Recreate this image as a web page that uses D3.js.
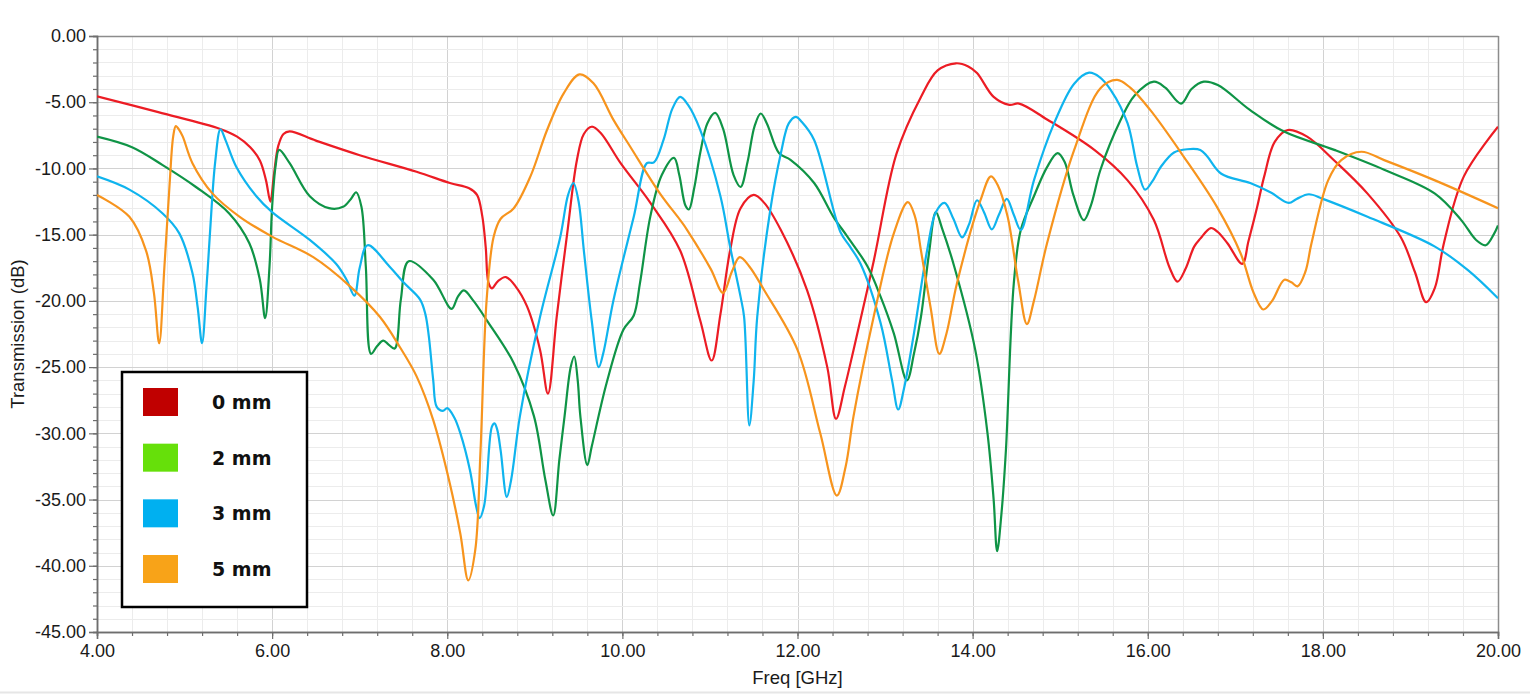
<!DOCTYPE html>
<html>
<head>
<meta charset="utf-8">
<script src="https://cdn.jsdelivr.net/npm/d3@7"></script>
<style>
  html, body { margin: 0; padding: 0; background: #fff; }
  svg { display: block; }
</style>
</head>
<body>
<svg id="chart" width="1530" height="694"></svg>
<script>
// ---------------- DATA ----------------
const seriesNames = ["0 mm", "2 mm", "3 mm", "5 mm"];
const lineColors = ["#ec1c24", "#0f9446", "#0fb4ee", "#f7941d"];
const legendColors = ["#c00000", "#66e00a", "#00b0f0", "#f8a318"];

const xTickLabels = ["4.00", "6.00", "8.00", "10.00", "12.00", "14.00", "16.00", "18.00", "20.00"];
const yTickLabels = ["0.00", "-5.00", "-10.00", "-15.00", "-20.00", "-25.00", "-30.00", "-35.00", "-40.00", "-45.00"];

// [Freq GHz, Transmission dB]
const trans0mm = [[4.0,-4.55],[4.7,-5.75],[5.4,-7.0],[5.6,-7.6],[5.75,-8.4],[5.86,-9.4],[5.93,-10.9],[5.98,-12.5],[6.02,-10.5],[6.07,-8.3],[6.13,-7.4],[6.2,-7.2],[6.5,-7.9],[7.0,-9.0],[7.65,-10.25],[8.03,-11.1],[8.25,-11.5],[8.34,-12.0],[8.40,-13.6],[8.44,-16.0],[8.47,-18.6],[8.51,-19.05],[8.58,-18.5],[8.67,-18.2],[8.78,-18.9],[8.91,-20.4],[9.06,-23.7],[9.15,-27.0],[9.25,-21.2],[9.37,-14.9],[9.48,-9.4],[9.56,-7.4],[9.65,-6.85],[9.75,-7.3],[9.98,-9.6],[10.32,-12.6],[10.66,-16.2],[10.89,-21.5],[11.02,-24.5],[11.12,-21.0],[11.23,-16.2],[11.35,-13.0],[11.5,-12.0],[11.62,-12.6],[11.81,-14.65],[12.11,-19.2],[12.34,-25.0],[12.44,-28.9],[12.54,-26.5],[12.64,-23.7],[12.87,-17.0],[13.13,-8.9],[13.41,-4.6],[13.6,-2.6],[13.81,-2.06],[13.95,-2.3],[14.05,-2.8],[14.24,-4.6],[14.42,-5.2],[14.53,-5.1],[14.85,-6.3],[15.39,-8.6],[15.77,-10.9],[16.07,-13.9],[16.25,-17.5],[16.34,-18.55],[16.43,-17.6],[16.53,-15.9],[16.6,-15.3],[16.72,-14.5],[16.8,-14.8],[16.91,-15.65],[17.08,-17.2],[17.15,-15.5],[17.25,-12.9],[17.33,-10.6],[17.45,-8.0],[17.6,-7.1],[17.82,-7.6],[18.13,-9.4],[18.51,-11.9],[18.89,-15.2],[19.05,-17.8],[19.18,-20.1],[19.28,-19.0],[19.38,-15.7],[19.61,-10.6],[20.0,-6.85]];

const trans2mm = [[4.0,-7.6],[4.4,-8.4],[4.75,-9.75],[5.13,-11.4],[5.51,-13.4],[5.74,-15.65],[5.86,-18.4],[5.92,-21.3],[5.97,-17.4],[6.0,-12.9],[6.04,-9.8],[6.08,-8.6],[6.2,-9.6],[6.43,-12.1],[6.65,-13.0],[6.81,-12.9],[6.9,-12.3],[6.96,-11.8],[7.02,-12.9],[7.07,-17.4],[7.13,-24.0],[7.2,-23.4],[7.27,-23.0],[7.33,-23.3],[7.4,-23.6],[7.47,-19.9],[7.56,-17.0],[7.84,-18.4],[8.05,-20.6],[8.12,-19.7],[8.19,-19.2],[8.3,-20.0],[8.45,-21.45],[8.76,-24.7],[8.99,-28.7],[9.12,-33.5],[9.21,-36.2],[9.28,-32.0],[9.34,-28.7],[9.41,-25.0],[9.45,-24.2],[9.49,-26.0],[9.52,-28.7],[9.6,-32.4],[9.65,-31.0],[9.82,-26.2],[10.01,-22.2],[10.13,-21.1],[10.2,-18.7],[10.32,-13.6],[10.45,-10.5],[10.59,-9.2],[10.65,-10.5],[10.72,-12.8],[10.76,-13.1],[10.82,-11.5],[10.89,-8.8],[10.97,-6.6],[11.06,-5.8],[11.15,-7.0],[11.27,-10.5],[11.35,-11.4],[11.43,-9.5],[11.51,-6.8],[11.58,-5.85],[11.65,-6.6],[11.79,-8.85],[11.92,-9.35],[12.19,-11.1],[12.41,-13.65],[12.57,-15.15],[12.8,-17.4],[12.95,-19.7],[13.1,-22.45],[13.25,-26.0],[13.33,-24.0],[13.41,-21.2],[13.5,-16.5],[13.58,-13.3],[13.65,-14.5],[13.79,-17.4],[14.03,-23.7],[14.17,-30.0],[14.24,-35.0],[14.28,-38.9],[14.33,-36.0],[14.38,-31.3],[14.47,-18.7],[14.55,-14.65],[14.7,-12.1],[14.85,-9.9],[14.97,-8.85],[15.05,-9.5],[15.15,-12.0],[15.27,-13.9],[15.35,-12.8],[15.46,-10.1],[15.69,-6.35],[15.85,-4.5],[16.07,-3.45],[16.2,-3.9],[16.38,-5.1],[16.5,-4.0],[16.64,-3.45],[16.8,-3.7],[17.17,-5.6],[17.55,-7.2],[18.13,-8.6],[18.7,-10.1],[19.28,-11.9],[19.58,-13.9],[19.75,-15.4],[19.86,-15.8],[19.95,-15.0],[20.0,-14.3]];

const trans3mm = [[4.0,-10.6],[4.37,-11.6],[4.75,-13.4],[4.94,-14.9],[5.09,-17.9],[5.15,-20.5],[5.2,-23.2],[5.25,-19.0],[5.29,-14.9],[5.35,-9.5],[5.41,-7.05],[5.47,-7.9],[5.59,-9.87],[5.82,-12.1],[6.0,-13.3],[6.43,-15.4],[6.73,-17.2],[6.85,-18.4],[6.94,-19.6],[7.0,-17.5],[7.09,-15.8],[7.34,-17.4],[7.5,-18.6],[7.69,-19.9],[7.75,-21.0],[7.79,-22.7],[7.84,-26.0],[7.88,-28.0],[7.95,-28.3],[8.0,-28.1],[8.08,-28.8],[8.15,-30.0],[8.26,-32.8],[8.33,-35.5],[8.37,-36.4],[8.42,-35.5],[8.45,-33.8],[8.51,-29.5],[8.54,-29.25],[8.57,-29.7],[8.61,-31.3],[8.68,-34.8],[8.73,-33.5],[8.83,-28.7],[9.06,-21.2],[9.29,-15.2],[9.38,-12.0],[9.44,-11.1],[9.5,-12.5],[9.56,-16.2],[9.65,-21.5],[9.73,-25.0],[9.78,-24.0],[9.9,-19.9],[10.13,-13.65],[10.28,-9.6],[10.36,-9.55],[10.47,-7.85],[10.57,-5.5],[10.66,-4.6],[10.75,-5.2],[10.89,-7.1],[11.12,-12.1],[11.23,-15.9],[11.35,-19.7],[11.39,-21.2],[11.45,-29.4],[11.5,-26.0],[11.54,-21.2],[11.69,-13.1],[11.81,-8.86],[11.9,-6.6],[11.98,-6.1],[12.05,-6.5],[12.19,-7.85],[12.49,-14.8],[12.6,-15.9],[12.72,-17.2],[12.95,-21.7],[13.08,-26.0],[13.15,-28.2],[13.22,-26.5],[13.33,-22.45],[13.48,-16.2],[13.58,-13.3],[13.68,-12.6],[13.78,-13.8],[13.88,-15.2],[13.96,-14.2],[14.05,-12.4],[14.13,-13.3],[14.22,-14.6],[14.3,-13.5],[14.39,-12.3],[14.47,-13.5],[14.55,-14.65],[14.7,-10.9],[14.93,-6.6],[15.16,-3.6],[15.33,-2.77],[15.45,-3.1],[15.58,-4.1],[15.77,-6.6],[15.88,-9.87],[15.97,-11.6],[16.05,-11.0],[16.15,-9.87],[16.3,-8.8],[16.45,-8.55],[16.6,-8.6],[16.68,-9.1],[16.84,-10.4],[17.17,-11.1],[17.4,-11.8],[17.61,-12.6],[17.7,-12.3],[17.84,-11.95],[18.0,-12.3],[18.51,-13.65],[19.28,-15.9],[19.66,-17.7],[20.0,-19.8]];

const trans5mm = [[4.0,-12.0],[4.37,-13.65],[4.56,-16.2],[4.65,-19.4],[4.71,-23.2],[4.77,-17.4],[4.83,-11.1],[4.87,-7.6],[4.9,-6.8],[4.94,-7.1],[4.98,-7.6],[5.09,-9.6],[5.32,-11.9],[5.63,-13.65],[6.0,-15.15],[6.47,-16.7],[6.89,-18.9],[7.23,-21.2],[7.46,-23.5],[7.65,-25.7],[7.84,-29.0],[8.03,-33.8],[8.15,-37.6],[8.24,-41.1],[8.32,-38.8],[8.38,-31.3],[8.45,-19.9],[8.53,-15.15],[8.61,-13.8],[8.76,-13.0],[8.95,-10.6],[9.14,-7.1],[9.33,-4.33],[9.51,-2.9],[9.67,-3.57],[9.9,-6.35],[10.09,-8.36],[10.43,-11.9],[10.66,-13.9],[10.74,-14.65],[11.01,-17.6],[11.15,-19.4],[11.25,-17.8],[11.34,-16.7],[11.45,-17.4],[11.62,-19.2],[12.0,-23.7],[12.26,-30.0],[12.45,-34.7],[12.55,-32.5],[12.64,-28.7],[12.87,-21.2],[13.1,-14.9],[13.26,-12.55],[13.34,-13.6],[13.41,-16.2],[13.52,-20.5],[13.62,-24.0],[13.7,-22.5],[13.82,-18.7],[14.09,-12.4],[14.21,-10.6],[14.29,-11.3],[14.4,-13.65],[14.52,-18.5],[14.62,-21.75],[14.7,-20.0],[14.85,-15.65],[15.16,-8.6],[15.46,-3.95],[15.65,-3.32],[15.8,-3.9],[16.03,-5.6],[16.41,-9.1],[16.79,-12.9],[17.06,-16.4],[17.21,-19.4],[17.32,-20.65],[17.42,-20.0],[17.56,-18.4],[17.64,-18.6],[17.71,-18.9],[17.8,-17.8],[17.87,-15.65],[18.06,-10.9],[18.21,-9.37],[18.44,-8.74],[18.7,-9.37],[19.28,-10.9],[20.0,-13.0]];

const allSeries = [trans0mm, trans2mm, trans3mm, trans5mm];

// ---------------- LAYOUT ----------------
const svg = d3.select("#chart");
const L = 97, T = 36, R = 1498, B = 632;
const font = "'Liberation Sans', Arial, sans-serif";

const x = d3.scaleLinear().domain([4, 20]).range([L, R]);
const y = d3.scaleLinear().domain([-45, 0]).range([B, T]);

// bottom separator line of window
svg.append("line").attr("x1", 0).attr("x2", 1530).attr("y1", 692.5).attr("y2", 692.5)
  .attr("stroke", "#e6e6e6").attr("stroke-width", 2);

// Grid
const grid = svg.append("g");
const xMinor = d3.range(0, 41).map(i => 4 + i * 0.4);
const yMinor = d3.range(0, 46).map(i => -i);
grid.selectAll(".xm").data(xMinor).enter().append("line")
  .attr("x1", d => Math.round(x(d)) + 0.5).attr("x2", d => Math.round(x(d)) + 0.5)
  .attr("y1", T).attr("y2", B)
  .attr("stroke", (d, i) => i % 5 === 0 ? "#d2d2d2" : "#ececec").attr("stroke-width", 1);
grid.selectAll(".ym").data(yMinor).enter().append("line")
  .attr("x1", L).attr("x2", R)
  .attr("y1", d => Math.round(y(d)) + 0.5).attr("y2", d => Math.round(y(d)) + 0.5)
  .attr("stroke", (d, i) => i % 5 === 0 ? "#d2d2d2" : "#ececec").attr("stroke-width", 1);

// Frame top/right
svg.append("line").attr("x1", L).attr("x2", R + 0.5).attr("y1", T + 0.5).attr("y2", T + 0.5)
  .attr("stroke", "#8c8c8c").attr("stroke-width", 1.5);
svg.append("line").attr("x1", R + 0.5).attr("x2", R + 0.5).attr("y1", T).attr("y2", B)
  .attr("stroke", "#8c8c8c").attr("stroke-width", 1.5);

// Axes
const yAxisMajor = d3.axisLeft(y).tickValues(yTickLabels.map(Number))
  .tickFormat((d, i) => yTickLabels[i]).tickSize(8).tickPadding(3);
const yAxisMinor = d3.axisLeft(y).tickValues(yMinor).tickFormat("").tickSize(4);
const xAxisMajor = d3.axisBottom(x).tickValues(xTickLabels.map(Number))
  .tickFormat((d, i) => xTickLabels[i]).tickSize(7).tickPadding(5);
const xAxisMinor = d3.axisBottom(x).tickValues(xMinor).tickFormat("").tickSize(4);

function styleAxis(g) {
  g.select(".domain").attr("stroke", "#6e6e6e").attr("stroke-width", 1.5);
  g.selectAll(".tick line").attr("stroke", "#6e6e6e").attr("stroke-width", 1.2);
  g.selectAll("text").attr("fill", "#1a1a1a").style("font-family", font).style("font-size", "18px");
}
svg.append("g").attr("transform", `translate(${L},0)`).call(yAxisMinor).call(styleAxis);
svg.append("g").attr("transform", `translate(${L},0)`).call(yAxisMajor).call(styleAxis);
svg.append("g").attr("transform", `translate(0,${B})`).call(xAxisMinor).call(styleAxis);
svg.append("g").attr("transform", `translate(0,${B})`).call(xAxisMajor).call(styleAxis);

// Axis titles
svg.append("text").attr("x", (L + R) / 2).attr("y", 684).attr("text-anchor", "middle")
  .style("font-family", font).style("font-size", "18.5px").attr("fill", "#1a1a1a").text("Freq [GHz]");
svg.append("text").attr("transform", `translate(24,${(T + B) / 2}) rotate(-90)`).attr("text-anchor", "middle")
  .style("font-family", font).style("font-size", "18.5px").attr("fill", "#1a1a1a").text("Transmission (dB)");

// Lines
svg.append("clipPath").attr("id", "clip").append("rect")
  .attr("x", L).attr("y", T).attr("width", R - L).attr("height", B - T);
const line = d3.line().x(d => x(d[0])).y(d => y(d[1])).curve(d3.curveCatmullRom.alpha(0.5));
svg.append("g").attr("clip-path", "url(#clip)").selectAll("path").data(allSeries).enter().append("path")
  .attr("d", line).attr("fill", "none")
  .attr("stroke", (d, i) => lineColors[i]).attr("stroke-width", 2.2)
  .attr("stroke-linejoin", "round");

// Legend
const lg = svg.append("g");
lg.append("rect").attr("x", 122).attr("y", 372).attr("width", 185).attr("height", 235)
  .attr("fill", "#fff").attr("stroke", "#000").attr("stroke-width", 2.5);
const rowY = d3.scalePoint().domain(seriesNames).range([402, 569]);
seriesNames.forEach((name, i) => {
  lg.append("rect").attr("x", 143).attr("y", rowY(name) - 14).attr("width", 35).attr("height", 28)
    .attr("fill", legendColors[i]);
  lg.append("text").attr("x", 212).attr("y", rowY(name) + 7)
    .style("font-family", "'DejaVu Sans', Verdana, sans-serif").style("font-size", "19px").style("font-weight", "bold")
    .attr("fill", "#111").text(name);
});
</script>
</body>
</html>
